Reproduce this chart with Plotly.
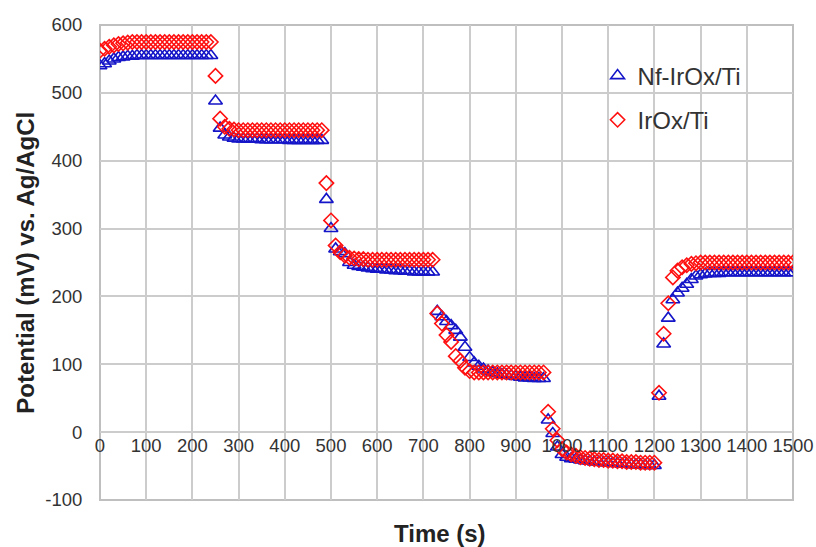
import plotly.graph_objects as go

time_s = list(range(0, 1510, 10))

nf_irox_ti = [
    # 0-240
    540, 543, 547, 550, 552, 553, 554, 554, 555, 555, 555, 555, 555,
    555, 555, 555, 555, 555, 555, 555, 555, 555, 555, 555, 555,
    # 250-480
    488, 448, 438, 435, 433, 432, 432, 432, 432, 432, 431, 431,
    431, 431, 431, 431, 430, 430, 430, 430, 430, 430, 430, 430,
    # 490-720
    343, 300, 270, 266, 263, 250, 246, 244, 243, 242, 241, 240,
    240, 239, 239, 238, 238, 237, 237, 236, 236, 236, 236, 236,
    # 730-960
    178, 170, 163, 157, 150, 140, 125, 110, 102, 97, 93, 90,
    88, 86, 85, 84, 83, 82, 81, 80, 80, 79, 79, 79,
    # 970-1200
    18, -2, -22, -33, -37, -39, -40, -41, -42, -43, -44, -44,
    -45, -45, -46, -46, -47, -47, -48, -48, -48, -49, -49, -49,
    # 1210-1500
    53, 130, 168, 195, 205, 212, 218, 225, 230, 232, 233, 234,
    234, 234, 235, 235, 235, 235, 235, 235, 235, 235, 235, 235,
    235, 235, 235, 235, 235, 235,
]

irox_ti = [
    # 0-240
    562, 565, 568, 570, 572, 573, 574, 575, 575, 575, 575, 575, 575,
    575, 575, 575, 575, 575, 575, 575, 575, 575, 575, 575, 575,
    # 250-480
    525, 462, 450, 447, 446, 445, 445, 445, 445, 445, 445, 445,
    445, 445, 445, 445, 445, 445, 445, 445, 445, 445, 445, 445,
    # 490-720
    367, 312, 275, 265, 260, 257, 256, 255, 255, 254, 254, 254,
    254, 254, 254, 254, 254, 254, 254, 254, 254, 254, 254, 254,
    # 730-960
    175, 160, 143, 133, 112, 105, 95, 90, 88, 88, 88, 88,
    88, 88, 88, 88, 88, 88, 88, 88, 88, 88, 88, 88,
    # 970-1200
    30, 5, -12, -25, -30, -33, -35, -37, -38, -39, -40, -41,
    -41, -42, -42, -43, -43, -44, -44, -44, -45, -45, -45, -45,
    # 1210-1500
    58, 145, 190, 228, 238, 243, 246, 248, 249, 250, 250, 250,
    250, 250, 250, 250, 250, 250, 250, 250, 250, 250, 250, 250,
    250, 250, 250, 250, 250, 250,
]

x_ticks = list(range(0, 1600, 100))
y_ticks = list(range(-100, 700, 100))
y_tick_labels = [str(v) for v in y_ticks]

FONT = "Arial, Liberation Sans, sans-serif"

fig = go.Figure()
fig.add_trace(go.Scatter(
    x=time_s, y=nf_irox_ti, mode="markers", name="Nf-IrOx/Ti",
    legendgroup="a",
    marker=dict(symbol="triangle-up-open", size=12, color="#1414C8",
                line=dict(width=1.6, color="#1414C8")),
))
fig.add_trace(go.Scatter(
    x=time_s, y=irox_ti, mode="markers", name="IrOx/Ti",
    legendgroup="b",
    marker=dict(symbol="diamond-open", size=11, color="#FF1010",
                line=dict(width=1.6, color="#FF1010")),
))

fig.update_layout(
    width=816, height=547,
    margin=dict(l=100, r=23, t=25, b=47, autoexpand=False),
    paper_bgcolor="white", plot_bgcolor="white",
    font=dict(family=FONT, size=18, color="#333333"),
    showlegend=True,
    legend=dict(x=0.718, y=0.94, xanchor="left", yanchor="top",
                bgcolor="rgba(0,0,0,0)", font=dict(size=24, color="#333333"),
                tracegroupgap=10, itemwidth=30),
    xaxis=dict(
        range=[0, 1500], tickvals=x_ticks, ticktext=[str(v) for v in x_ticks],
        showgrid=True, gridcolor="#cccccc", gridwidth=2,
        zeroline=False, showline=False, ticks="",
        anchor="free", position=1/7, automargin=False,
        tickfont=dict(size=18.5, color="#333333"),
    ),
    yaxis=dict(
        range=[-100, 600], tickvals=y_ticks, ticktext=y_tick_labels,
        showgrid=True, gridcolor="#cccccc", gridwidth=2,
        zeroline=False, showline=False, automargin=False,
        ticks="outside", ticklen=13, tickcolor="rgba(0,0,0,0)",
        tickfont=dict(size=18.5, color="#333333"),
    ),
    shapes=[dict(type="rect", xref="paper", yref="paper", x0=0, y0=0, x1=1, y1=1,
                 line=dict(color="#bfbfbf", width=2), layer="below")],
    annotations=[
        dict(text="<b>Time (s)</b>", xref="paper", yref="paper",
             x=0.49, y=-0.07, xanchor="center", yanchor="middle",
             showarrow=False, font=dict(size=24, color="#222222")),
        dict(text="<b>Potential (mV) vs. Ag/AgCl</b>", xref="paper", yref="paper",
             x=-0.108, y=0.5, xanchor="center", yanchor="middle", textangle=-90,
             showarrow=False, font=dict(size=24, color="#222222")),
    ],
)

fig.write_html("out.html",
               config={"displayModeBar": False},
               post_script="document.body.style.margin='0';document.body.style.padding='0';")
